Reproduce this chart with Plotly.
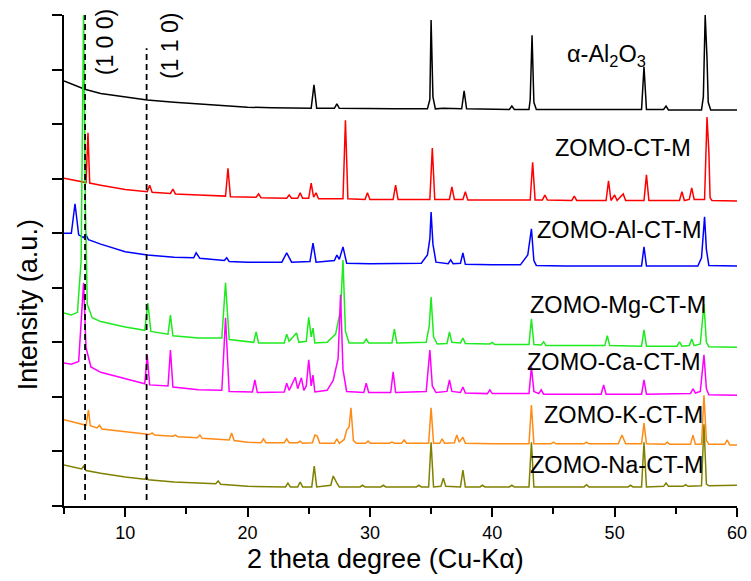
import plotly.graph_objects as go

# ---- data (2-theta, stacked intensity a.u.) ----
al2o3_pts = [(5.0, 7.79), (6.0, 7.70), (6.7, 7.64), (8, 7.56), (10, 7.49), (11.8, 7.44), (14, 7.40),
             (16, 7.37), (18, 7.34), (20, 7.31), (22, 7.30), (25.2, 7.29), (25.43, 7.72), (25.65, 7.29),
             (27.1, 7.29), (27.3, 7.37), (27.5, 7.29), (30, 7.28), (32, 7.28), (34.7, 7.28), (34.9, 7.45),
             (35.0, 8.91), (35.15, 7.5), (35.35, 7.28), (36, 7.29), (37.5, 7.28), (37.7, 7.61), (37.9, 7.28),
             (40, 7.27), (41.4, 7.27), (41.6, 7.33), (41.8, 7.27), (43.0, 7.27), (43.1, 7.45), (43.25, 8.63),
             (43.4, 7.4), (43.6, 7.27), (46, 7.27), (50, 7.27), (52.2, 7.27), (52.4, 8.05), (52.6, 7.27),
             (54.0, 7.27), (54.2, 7.33), (54.4, 7.26), (57.1, 7.26), (57.25, 7.5), (57.4, 9.0), (57.55, 8.2),
             (57.65, 7.4), (57.85, 7.26), (60, 7.26)]

ct_pts = [(5.0, 6.01), (6.0, 5.96), (6.8, 5.93), (6.96, 6.84), (7.1, 5.92), (8, 5.88), (10, 5.80),
          (11.8, 5.76), (12.0, 5.88), (12.2, 5.75), (13.7, 5.73), (13.9, 5.81), (14.1, 5.72), (16, 5.70),
          (18.2, 5.68), (18.4, 6.19), (18.6, 5.67), (20.7, 5.66), (20.9, 5.72), (21.1, 5.65), (23.2, 5.64),
          (23.4, 5.70), (23.6, 5.64), (24.1, 5.64), (24.3, 5.74), (24.5, 5.64), (25.0, 5.64), (25.2, 5.92),
          (25.4, 5.66), (25.6, 5.74), (25.8, 5.63), (27.8, 5.63), (28.0, 7.07), (28.2, 5.63), (29.6, 5.62),
          (29.8, 5.74), (30.0, 5.62), (31.9, 5.62), (32.1, 5.88), (32.3, 5.62), (34.9, 5.62), (35.1, 6.56),
          (35.3, 5.62), (36.5, 5.62), (36.7, 5.85), (36.9, 5.62), (37.6, 5.62), (37.8, 5.76), (38.0, 5.61),
          (40, 5.61), (43.1, 5.61), (43.3, 6.30), (43.5, 5.61), (44.1, 5.61), (44.3, 5.70), (44.5, 5.61),
          (46.5, 5.60), (46.7, 5.68), (46.9, 5.60), (49.3, 5.60), (49.5, 5.96), (49.7, 5.60), (50.0, 5.70),
          (50.2, 5.60), (50.7, 5.72), (50.9, 5.60), (52.4, 5.60), (52.6, 6.07), (52.8, 5.60), (55.3, 5.60),
          (55.5, 5.76), (55.7, 5.60), (56.1, 5.62), (56.3, 5.83), (56.5, 5.62), (57.35, 5.62), (57.55, 7.13),
          (57.7, 6.5), (57.8, 5.65), (57.95, 5.60), (60, 5.59)]

al_pts = [(5.0, 5.00), (5.6, 5.0), (5.9, 5.54), (6.2, 4.97), (6.6, 4.92), (6.8, 4.97), (7.0, 4.88),
          (8, 4.80), (10, 4.66), (11.8, 4.60), (14, 4.56), (15.6, 4.55), (15.8, 4.64), (16.1, 4.54),
          (18.1, 4.50), (18.3, 4.55), (18.5, 4.48), (20, 4.47), (22.8, 4.47), (23.2, 4.64), (23.6, 4.47),
          (25.1, 4.48), (25.35, 4.82), (25.6, 4.47), (27.1, 4.50), (27.3, 4.60), (27.5, 4.52), (27.8, 4.75),
          (28.1, 4.45), (30, 4.44), (34.2, 4.45), (34.7, 4.60), (34.9, 4.9), (35.0, 5.39), (35.15, 4.8),
          (35.4, 4.47), (36.4, 4.44), (36.6, 4.51), (36.8, 4.44), (37.4, 4.45), (37.6, 4.64), (37.8, 4.43),
          (40, 4.42), (42.3, 4.42), (42.9, 4.6), (43.2, 5.08), (43.4, 4.5), (43.6, 4.41), (46, 4.40),
          (52.2, 4.40), (52.4, 4.75), (52.6, 4.40), (56.8, 4.40), (57.1, 4.55), (57.35, 5.30), (57.5, 4.7),
          (57.7, 4.41), (60, 4.40)]

mg_pts = [(5.0, 3.54), (5.6, 3.50), (6.1, 3.55), (6.4, 4.5), (6.6, 9.05), (6.75, 5.5), (6.9, 3.7),
          (7.3, 3.45), (8, 3.38), (10, 3.28), (11.6, 3.22), (11.85, 3.72), (12.1, 3.20), (13.5, 3.15),
          (13.7, 3.50), (13.9, 3.12), (16, 3.08), (17.9, 3.08), (18.2, 4.09), (18.5, 3.05), (20.5, 3.00),
          (20.7, 3.19), (20.9, 2.99), (23.0, 2.99), (23.2, 3.15), (23.4, 3.02), (24.0, 3.17), (24.2, 3.0),
          (24.8, 3.02), (25.0, 3.46), (25.2, 3.1), (25.35, 3.26), (25.5, 2.99), (26.5, 3.0), (27.2, 3.15),
          (27.6, 3.6), (27.8, 4.51), (28.0, 3.2), (28.3, 2.99), (29.5, 2.99), (29.7, 3.06), (29.9, 2.99),
          (31.8, 2.99), (32.0, 3.24), (32.2, 2.99), (34.6, 3.0), (34.85, 3.3), (35.0, 3.83), (35.2, 3.1),
          (35.5, 2.97), (36.3, 2.98), (36.5, 3.19), (36.7, 3.0), (37.4, 2.99), (37.6, 3.08), (37.8, 2.98),
          (39.8, 2.97), (40.0, 3.00), (40.2, 2.96), (43.0, 2.96), (43.2, 3.43), (43.4, 2.96), (44.0, 2.95),
          (44.2, 3.01), (44.4, 2.94), (49.2, 2.94), (49.4, 3.12), (49.6, 2.94), (52.2, 2.93), (52.4, 3.23),
          (52.6, 2.93), (55.1, 2.93), (55.3, 3.01), (55.5, 2.93), (56.1, 2.94), (56.3, 3.06), (56.5, 2.94),
          (57.0, 2.97), (57.3, 3.70), (57.5, 3.0), (57.7, 2.92), (60, 2.91)]

ca_pts = [(5.0, 2.62), (5.6, 2.60), (6.2, 2.65), (6.45, 3.5), (6.6, 4.09), (6.8, 2.9), (7.2, 2.55),
          (8, 2.45), (10, 2.33), (11.6, 2.24), (11.8, 2.77), (12.0, 2.22), (13.5, 2.2), (13.7, 2.86),
          (13.9, 2.18), (16, 2.13), (17.9, 2.12), (18.2, 3.45), (18.5, 2.1), (20.4, 2.09), (20.6, 2.31),
          (20.8, 2.08), (23.0, 2.09), (23.2, 2.25), (23.4, 2.12), (23.9, 2.36), (24.1, 2.15), (24.4, 2.35),
          (24.6, 2.12), (24.8, 2.2), (25.0, 2.68), (25.2, 2.2), (25.35, 2.40), (25.5, 2.09), (26.5, 2.12),
          (27.0, 2.3), (27.4, 2.7), (27.6, 3.87), (27.8, 2.5), (28.1, 2.1), (29.5, 2.08), (29.7, 2.25),
          (29.9, 2.08), (31.7, 2.08), (31.9, 2.46), (32.1, 2.08), (34.6, 2.1), (34.9, 2.86), (35.1, 2.2),
          (35.4, 2.08), (36.3, 2.1), (36.5, 2.31), (36.7, 2.1), (37.4, 2.08), (37.6, 2.18), (37.8, 2.07),
          (39.6, 2.06), (39.8, 2.13), (40.0, 2.06), (43.0, 2.06), (43.2, 2.55), (43.4, 2.1), (43.8, 2.06),
          (44.0, 2.13), (44.2, 2.05), (48.9, 2.05), (49.1, 2.22), (49.3, 2.05), (52.2, 2.05), (52.4, 2.31),
          (52.6, 2.05), (56.2, 2.06), (56.4, 2.15), (56.6, 2.07), (57.0, 2.10), (57.3, 2.77), (57.5, 2.15),
          (57.7, 2.04), (60, 2.03)]

k_pts = [(5.0, 1.58), (6.0, 1.52), (6.8, 1.48), (7.0, 1.76), (7.15, 1.47), (7.7, 1.43), (7.9, 1.48),
         (8.1, 1.41), (10, 1.36), (12.0, 1.31), (12.2, 1.34), (12.4, 1.30), (13.9, 1.28), (14.1, 1.30),
         (14.3, 1.27), (15.9, 1.25), (16.1, 1.30), (16.3, 1.24), (18.5, 1.21), (18.7, 1.34), (18.9, 1.20),
         (20, 1.17), (21.1, 1.16), (21.3, 1.23), (21.5, 1.16), (23.0, 1.16), (23.2, 1.23), (23.4, 1.16),
         (24.1, 1.16), (24.3, 1.19), (24.5, 1.15), (25.3, 1.16), (25.5, 1.30), (25.7, 1.28), (25.9, 1.15),
         (27.1, 1.15), (27.3, 1.23), (27.5, 1.15), (27.9, 1.22), (28.1, 1.39), (28.3, 1.45), (28.45, 1.80),
         (28.65, 1.2), (28.9, 1.15), (29.65, 1.15), (29.85, 1.19), (30.05, 1.15), (31.6, 1.15), (31.8, 1.17),
         (32.0, 1.15), (32.6, 1.15), (32.8, 1.21), (33.0, 1.15), (34.8, 1.15), (35.0, 1.80), (35.2, 1.15),
         (35.7, 1.15), (35.9, 1.23), (36.1, 1.15), (36.9, 1.16), (37.1, 1.30), (37.3, 1.17), (37.6, 1.26),
         (37.8, 1.15), (40, 1.14), (43.0, 1.14), (43.2, 1.85), (43.4, 1.14), (44.8, 1.14), (45.0, 1.17),
         (45.2, 1.14), (47.5, 1.14), (47.7, 1.17), (47.9, 1.14), (50.3, 1.14), (50.6, 1.30), (50.9, 1.14),
         (52.2, 1.14), (52.4, 1.52), (52.6, 1.14), (54.1, 1.13), (54.3, 1.17), (54.5, 1.13), (56.2, 1.13),
         (56.4, 1.30), (56.6, 1.13), (57.1, 1.13), (57.3, 2.03), (57.5, 1.2), (57.7, 1.13), (59.0, 1.13),
         (59.2, 1.21), (59.4, 1.12), (60, 1.12)]

na_pts = [(5.0, 0.75), (6.0, 0.70), (6.45, 0.68), (6.6, 0.73), (6.8, 0.65), (8, 0.60), (10, 0.53),
          (11.6, 0.49), (11.75, 0.53), (11.9, 0.48), (14, 0.44), (17.4, 0.41), (17.6, 0.46), (17.8, 0.40),
          (20, 0.36), (23.1, 0.35), (23.3, 0.42), (23.5, 0.35), (24.1, 0.35), (24.3, 0.44), (24.5, 0.35),
          (25.25, 0.35), (25.45, 0.73), (25.65, 0.35), (26.1, 0.36), (26.8, 0.38), (27.0, 0.55), (27.2, 0.45),
          (27.3, 0.42), (27.5, 0.35), (29.2, 0.35), (29.4, 0.38), (29.6, 0.35), (30.9, 0.35), (31.1, 0.38),
          (31.3, 0.35), (33.8, 0.35), (34.0, 0.38), (34.2, 0.35), (34.8, 0.35), (35.0, 1.17), (35.2, 0.35),
          (35.8, 0.36), (36.0, 0.51), (36.2, 0.36), (37.4, 0.35), (37.6, 0.66), (37.8, 0.35), (39.0, 0.35),
          (39.2, 0.38), (39.4, 0.35), (41.4, 0.35), (41.6, 0.38), (41.8, 0.35), (43.0, 0.35), (43.2, 1.17),
          (43.4, 0.35), (47.5, 0.35), (47.7, 0.39), (47.9, 0.35), (51.1, 0.35), (51.3, 0.38), (51.5, 0.35),
          (52.2, 0.35), (52.4, 1.17), (52.6, 0.35), (54.0, 0.36), (54.2, 0.42), (54.4, 0.36), (55.6, 0.36),
          (55.8, 0.39), (56.0, 0.36), (57.1, 0.37), (57.3, 1.50), (57.5, 0.40), (57.7, 0.37), (60, 0.38)]

series_names = ["α-Al2O3", "ZOMO-CT-M", "ZOMO-Al-CT-M", "ZOMO-Mg-CT-M",
                "ZOMO-Ca-CT-M", "ZOMO-K-CT-M", "ZOMO-Na-CT-M"]
series_pts = [al2o3_pts, ct_pts, al_pts, mg_pts, ca_pts, k_pts, na_pts]
series_colors = ["#000000", "#FF0000", "#0000FF", "#1EEB1E", "#FF00FF", "#FF8A14", "#808000"]

label_texts = ["α-Al<sub>2</sub>O<sub>3</sub>", "ZOMO-CT-M", "ZOMO-Al-CT-M", "ZOMO-Mg-CT-M",
               "ZOMO-Ca-CT-M", "ZOMO-K-CT-M", "ZOMO-Na-CT-M"]
label_x = [49.3, 50.69, 50.36, 50.28, 49.95, 50.69, 50.19]
label_y = [8.26, 6.56, 5.06, 3.68, 2.64, 1.67, 0.75]

plane_texts = ["(1 0 0)", "(1 1 0)"]
plane_x = [6.72, 11.75]
plane_top = [9.0, 8.39]
plane_label_x = [8.35, 13.66]
plane_label_y = [8.50, 8.43]

FONT = "Arial, 'Liberation Sans', sans-serif"

fig = go.Figure()
for name, pts, col in zip(series_names, series_pts, series_colors):
    fig.add_trace(go.Scatter(x=[p[0] for p in pts], y=[p[1] for p in pts], mode="lines",
                             name=name, line=dict(color=col, width=1.5), showlegend=False))

for xv, top in zip(plane_x, plane_top):
    fig.add_shape(type="line", xref="x", yref="y", x0=xv, x1=xv, y0=0.11, y1=top,
                  line=dict(color="black", width=1.8, dash="6px,4px"))

for t, xv, yv in zip(label_texts, label_x, label_y):
    fig.add_annotation(x=xv, y=yv, xref="x", yref="y", text=t, showarrow=False,
                       xanchor="center", yanchor="middle",
                       font=dict(family=FONT, size=23.5, color="black"))

for t, xv, yv in zip(plane_texts, plane_label_x, plane_label_y):
    fig.add_annotation(x=xv, y=yv, xref="x", yref="y", text=t, showarrow=False, textangle=-90,
                       xanchor="center", yanchor="middle",
                       font=dict(family=FONT, size=23, color="black"))

fig.add_annotation(x=0.477, y=-0.108, xref="paper", yref="paper", text="2 theta degree (Cu-Kα)",
                   showarrow=False, xanchor="center", yanchor="middle",
                   font=dict(family=FONT, size=27, color="black"))
fig.add_annotation(x=-0.0535, y=0.411, xref="paper", yref="paper", text="Intensity (a.u.)",
                   showarrow=False, textangle=-90, xanchor="center", yanchor="middle",
                   font=dict(family=FONT, size=27, color="black"))

fig.update_layout(
    width=751, height=581,
    margin=dict(l=64, r=14, t=15, b=75),
    paper_bgcolor="white", plot_bgcolor="white",
    font=dict(family=FONT, color="black"),
    xaxis=dict(range=[5, 60], tick0=0, dtick=10, ticks="outside", ticklen=9, tickwidth=2,
               tickcolor="black", showline=True, linewidth=2, linecolor="black", automargin=False,
               showgrid=False, zeroline=False, tickfont=dict(family=FONT, size=18, color="black"),
               minor=dict(dtick=5, tick0=0, ticks="outside", ticklen=6, tickwidth=2, tickcolor="black",
                          showgrid=False)),
    yaxis=dict(range=[0, 9], tick0=0, dtick=1, ticks="outside", ticklen=10, tickwidth=2,
               tickcolor="black", showline=True, linewidth=2, linecolor="black", automargin=False,
               showgrid=False, zeroline=False, showticklabels=False),
)

fig.write_html("out.html")
